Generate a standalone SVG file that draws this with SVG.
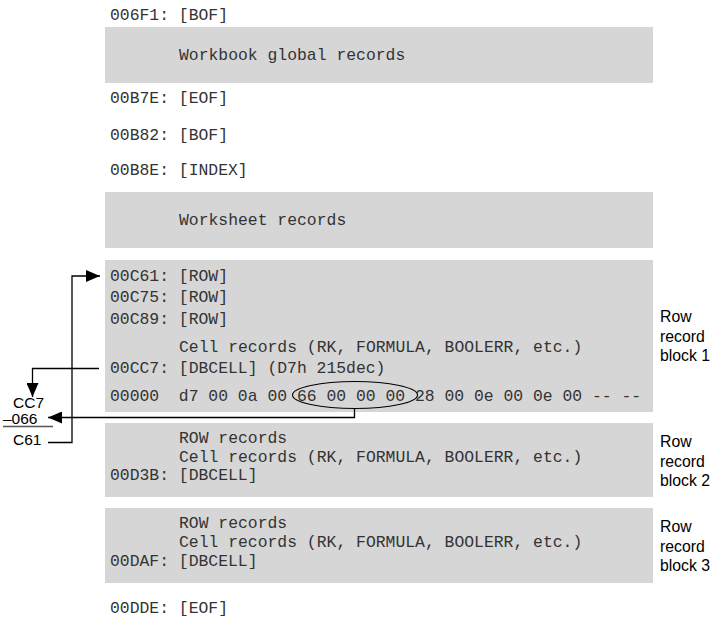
<svg xmlns="http://www.w3.org/2000/svg" width="715" height="623" viewBox="0 0 715 623">
<style>
.box{fill:#d6d6d6}
.m{font-family:"Liberation Mono","Courier New",monospace;font-size:16.4px;fill:#333}
.s{font-family:"Liberation Sans",Arial,sans-serif;font-size:15.8px;fill:#000}
.c{font-family:"Liberation Sans",Arial,sans-serif;font-size:15.5px;fill:#000}
.ln{fill:none;stroke:#000;stroke-width:1.3}
</style>
<defs>
<marker id="ah" viewBox="0 0 14 12" refX="14" refY="6" markerWidth="14" markerHeight="12" markerUnits="userSpaceOnUse" orient="auto">
<path d="M0,0 L14,6 L0,12 Z" fill="#000"/>
</marker>
</defs>
<rect width="715" height="623" fill="#fff"/>

<g id="bof1"><text class="m" x="110" y="20">006F1: [BOF]</text></g>
<g id="workbook"><rect class="box" x="105" y="27" width="548" height="56"/><text class="m" x="179" y="60">Workbook global records</text></g>
<g id="eof1"><text class="m" x="110" y="103">00B7E: [EOF]</text></g>
<g id="bof2"><text class="m" x="110" y="140">00B82: [BOF]</text></g>
<g id="index"><text class="m" x="110" y="175">00B8E: [INDEX]</text></g>
<g id="worksheet"><rect class="box" x="105" y="192" width="548" height="56"/><text class="m" x="179" y="225">Worksheet records</text></g>

<g id="block1">
<rect class="box" x="105" y="260" width="548" height="152"/>
<text class="m" x="110" y="281">00C61: [ROW]</text>
<text class="m" x="110" y="302">00C75: [ROW]</text>
<text class="m" x="110" y="324">00C89: [ROW]</text>
<text class="m" x="179" y="352">Cell records (RK, FORMULA, BOOLERR, etc.)</text>
<text class="m" x="110" y="373">00CC7: [DBCELL] (D7h 215dec)</text>
<text class="m" x="110" y="401" xml:space="preserve">00000  d7 00 0a 00 66 00 00 00 28 00 0e 00 0e 00 -- --</text>
<ellipse cx="355" cy="395" rx="62.5" ry="13.5" fill="none" stroke="#000" stroke-width="1.1"/>
<text class="s" x="660" y="322">Row</text>
<text class="s" x="660" y="341.5">record</text>
<text class="s" x="660" y="361">block 1</text>
</g>

<g id="block2">
<rect class="box" x="105" y="423" width="548" height="74"/>
<text class="m" x="179" y="443">ROW records</text>
<text class="m" x="179" y="461.5">Cell records (RK, FORMULA, BOOLERR, etc.)</text>
<text class="m" x="110" y="480">00D3B: [DBCELL]</text>
<text class="s" x="660" y="447">Row</text>
<text class="s" x="660" y="466.5">record</text>
<text class="s" x="660" y="486">block 2</text>
</g>

<g id="block3">
<rect class="box" x="105" y="508" width="548" height="75"/>
<text class="m" x="179" y="527.5">ROW records</text>
<text class="m" x="179" y="546.5">Cell records (RK, FORMULA, BOOLERR, etc.)</text>
<text class="m" x="110" y="566">00DAF: [DBCELL]</text>
<text class="s" x="660" y="532">Row</text>
<text class="s" x="660" y="551.5">record</text>
<text class="s" x="660" y="571">block 3</text>
</g>

<g id="eof2"><text class="m" x="110" y="613">00DDE: [EOF]</text></g>

<g id="calc">
<text class="c" x="13" y="408">CC7</text>
<text class="c" x="3" y="424">–066</text>
<line x1="3" y1="426.5" x2="53" y2="426.5" stroke="#555" stroke-width="1.3"/>
<text class="c" x="13" y="444.5">C61</text>
</g>

<g id="connectors">
<path class="ln" d="M48,442.5 H72 V276 H100" marker-end="url(#ah)"/>
<path class="ln" d="M99,368.5 H32.5 V397" marker-end="url(#ah)"/>
<path class="ln" d="M354.5,408.5 V417.5 H48" marker-end="url(#ah)"/>
</g>
</svg>
